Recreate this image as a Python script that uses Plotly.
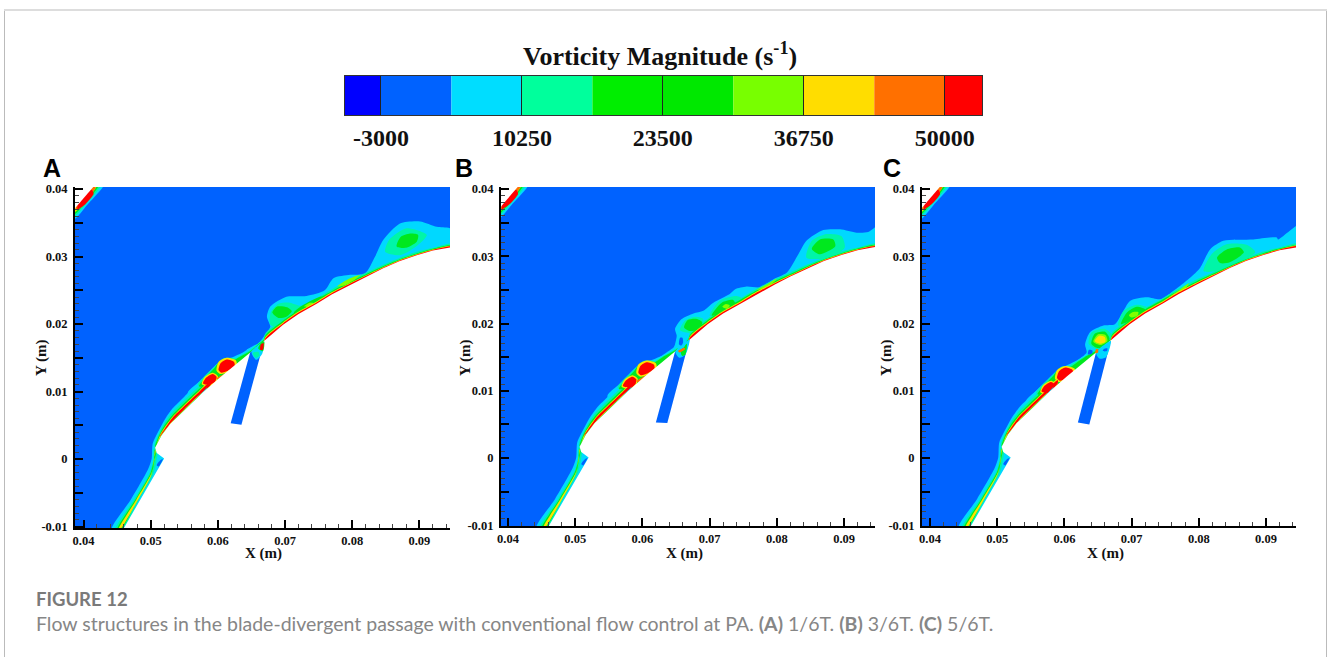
import plotly.graph_objects as go

W, H = 1328, 657

# ---------- colour bar ----------
BAR_EDGES = [-6380, -3000, 3625, 10250, 16875, 23500, 30125, 36750, 43375, 50000, 53500]
BAR_COLORS = ["#0000FF", "#0062FF", "#00DDFF", "#00FF9C", "#00EE00", "#00E800", "#78FF00", "#FFDD00", "#FF7000", "#FF0000"]
BAR_TICKS = [-3000, 10250, 23500, 36750, 50000]

LEVEL = ["blue", "cyan", "mint", "green", "lime", "yellow", "orange", "red"]
COL = {"blue": "#0062FF", "cyan": "#00D8FF", "mint": "#00F5A8", "green": "#00E81E",
       "lime": "#80FF00", "yellow": "#FFE000", "orange": "#FF7000", "red": "#FF0000"}

# ---------- all geometry below is in units of 0.001 m ----------
SURFACE = [(45.9, -10.4), (52.0, 0.1), (50.9, 0.9), (50.65, 1.7), (51.6, 3.5), (52.9, 5.2), (55.4, 7.6), (57.8, 9.9),
           (60.3, 12.1), (62.8, 14.1), (64.8, 15.8), (67, 17.6), (69.7, 19.9), (72, 21.5), (74.7, 23.0),
           (77, 24.4), (79.7, 25.8), (82, 27.0), (84.6, 28.25), (87, 29.3), (89.6, 30.2), (92, 30.9), (94.7, 31.4),
           (95, 31.4), (95, -10.4)]
CORNER = [(38, 36.3), (41.7, 40.6), (38, 40.6)]

TOP_CYAN = [(38.7, 35.6), (40.5, 37.6), (43, 40.6), (41, 40.6), (38.7, 38)]
TOP_MINT = [(38.7, 36.0), (40.4, 37.8), (42.6, 40.6), (41, 40.6), (38.7, 38)]
TOP_GREEN = [(38.7, 36.3), (40.3, 38), (42.3, 40.6), (41, 40.6), (38.7, 38)]
TOP_YEL = [(38.7, 36.6), (40.2, 38.1), (42, 40.6), (41, 40.6), (38.7, 38)]
TOP_ORANGE = [(38.9, 36.9), (40.2, 38), (41.8, 40.3), (41, 40.4), (38.9, 37.8)]
TOP_RED = [(39.1, 37), (40.3, 37.8), (41.5, 39.3), (41.2, 39.9), (40, 38.9), (39.2, 37.9)]

LEAD_CYAN = [(44.2, -10.4), (47, -6.07), (49.6, -1.5), (50.15, 0.1), (50.3, 2.3), (51.5, 4.8), (52.3, 6.2), (53.2, 7.45), (55, 9.25), (57, 11.15),
             (59, 13.0), (62, 14.6), (66, 17), (66, 14), (60, 8), (51, -2), (46, -11)]
LOW_MINT = [(44.7, -10.4), (47.5, -6), (49.9, -1.9), (50.4, 0), (50.5, 1.6), (51, 1), (50.9, 0), (50.4, -2.2), (48.25, -6), (45.75, -10.4)]
LOW_GREEN = [(45, -10.4), (47.7, -6), (50, -2), (50.5, 0), (50.6, 1.4), (50.8, 1), (50.6, 0), (50.2, -2), (48, -6), (45.6, -10.4)]
LOW_YEL = [(45.2, -10.4), (47.85, -6), (50.1, -2.1), (50.55, 0), (50.65, 1.3), (50.72, 1.3), (50.45, -0.3), (50.1, -2.3), (48, -6.2), (45.45, -10.4)]
TIP_BLUE = [(50.9, -0.9), (51.4, -0.2), (51.8, 0.0), (51.2, -1.1)]

UP_MINT = [(50.55, 2.0), (51.5, 4.4), (52.3, 5.75), (53.2, 6.95), (55, 8.75), (57, 10.65), (59, 12.5), (61, 13.9), (63, 15.1), (65, 16.3), (67, 17.9), (66, 14), (55, 5), (51, 1)]
UP_GREEN = [(50.65, 1.8), (51.5, 4.05), (52.3, 5.35), (53.2, 6.5), (55, 8.3), (57, 10.2), (59, 12.1), (61, 13.6), (63, 15), (65, 16.1), (67, 17.7), (66, 14), (55, 5), (51, 1)]
UP_YEL = [(50.9, 2.2), (51.5, 3.8), (53.2, 6.2), (55, 8), (57, 9.9), (59, 11.8), (59, 11), (57, 9.2), (55, 7.3), (53.2, 5.5), (51.5, 3.4)]
UP_RED = [(51.3, 3.3), (53.2, 6.05), (55, 7.85), (57, 9.75), (59, 11.6), (59, 11.1), (57, 9.3), (55, 7.4), (53.2, 5.6), (51.5, 3.5)]
UNDER_CYAN = [(55.8, 7.95), (57, 9.1), (58.4, 10.6), (57.9, 9.8), (56.5, 8.3)]

HUMP_CYAN = [(55.5, 9.8), (57.5, 11.7), (60.2, 14.4), (62.2, 15.1), (63.6, 15.7), (65.8, 16.7), (67.5, 18), (67.5, 17), (64, 14.5), (60, 11), (56, 8.5)]
HUMP_MINT = [(57, 11.0), (59.7, 13.9), (60.8, 14.9), (62, 15), (63.3, 14.9), (64.6, 15.8), (64.6, 15), (61, 12.5), (58, 10.5)]
HUMP_GREEN = [(57.2, 10.8), (59.5, 13.5), (60.5, 14.7), (62, 14.85), (63.1, 14.6), (64, 15), (62, 13), (58.5, 10.8)]
HUMP_YEL1 = [(59.8, 13.1), (60.1, 14.4), (61.3, 15), (62.7, 14.6), (62.8, 13.7), (61.6, 12.9), (60.4, 12.6)]
HUMP_RED1 = [(60.1, 13.2), (60.4, 14.2), (61.3, 14.75), (62.4, 14.4), (62.5, 13.8), (61.5, 13.1), (60.5, 12.8)]
HUMP_YEL2 = [(57.6, 11.1), (58, 12.1), (59.2, 12.8), (60, 12.3), (59.8, 11.4), (58.7, 10.8)]
HUMP_RED2 = [(57.8, 11.2), (58.2, 12.0), (59.2, 12.6), (59.8, 12.2), (59.6, 11.5), (58.7, 11)]
HUMP_STREAK = [(59.8, 11.9), (60.3, 12.3), (61.3, 12.8), (62.4, 13.5), (62.5, 13.2), (61.2, 12.3), (60.2, 11.8)]

TAIL_MINT = [(67, 18.5), (69.7, 20.7), (72, 22.3), (74.7, 23.8), (77, 25.2), (79.7, 26.6), (82, 27.6), (84.6, 28.8), (87, 29.8), (89.6, 30.7), (92, 31.3), (95, 31.9), (95, 30), (67, 16)]
TAIL_GREEN = [(67, 18.2), (69.7, 20.5), (72, 22.1), (74.7, 23.6), (77, 24.9), (79.7, 26.3), (82, 27.35), (84.6, 28.55), (87, 29.55), (89.6, 30.45), (92, 31.15), (95, 31.65), (95, 30), (67, 16)]
TAIL_YEL = [(67, 17.95), (69.7, 20.25), (72, 21.85), (74.7, 23.35), (77, 24.75), (79.7, 26.1), (82, 27.2), (84.6, 28.42), (87, 29.45), (89.6, 30.33), (92, 31.03), (95, 31.55), (95, 30), (67, 16)]
TAIL_RED = [(67, 17.8), (69.7, 20.1), (72, 21.7), (74.7, 23.2), (77, 24.6), (79.7, 26), (82, 27.12), (84.6, 28.35), (87, 29.38), (89.6, 30.27), (92, 30.97), (95, 31.47), (95, 30), (67, 16)]

# panel A
A_ENV = [(64.3, 16.2), (65.8, 16.9), (67, 18.4), (67.8, 19.6), (67.3, 21.1), (67.8, 22.6), (70.2, 24.05), (73.2, 24.15), (75.9, 25.0), (77.2, 26.8),
         (79.7, 27.3), (81.9, 27.5), (83.4, 30), (84.6, 32.45), (87.1, 34.9), (90.1, 35.2), (92.6, 34.4), (95, 34.0), (95, 30), (80, 24), (68, 16)]
A_V12_MINT = [(67.8, 19.9), (67.9, 21.8), (69, 23), (70.5, 23.2), (72.5, 22.7), (75, 23.9), (76, 24.4), (75, 22.5), (70, 19.5)]
A_V1_GREEN = [(68.1, 21.7), (68.8, 22.6), (70.3, 22.5), (71, 21.9), (70.2, 21.1), (69, 20.9)]
A_V2_GREEN = [(71.3, 21.7), (72.8, 22.9), (75.4, 24.1), (75.8, 23.9), (74.5, 22.6), (72.8, 21.6)]
A_V2_LIME = [(72.8, 22.6), (73.5, 23.1), (74.2, 23.1), (73.8, 22.6)]
A_BIG_MINT = [(84.9, 30.7), (85.5, 32.5), (88.1, 34.2), (91.1, 33.2), (89.5, 31.5), (87.1, 30.2)]
A_BIG_GREEN = [(86.6, 31.5), (87.2, 32.9), (88.6, 33.4), (89.8, 33.2), (89.6, 32.2), (88, 31.3)]
A_BAND_LIME = [(77.8, 25.6), (79.5, 26.7), (81.2, 27.3), (80.4, 26.6), (78.8, 25.7)]
A_SLOT_CYAN = [(65, 15.9), (66.8, 17.3), (66.6, 15.6), (65.7, 14.7)]
A_SLOT_MINT = [(65.2, 15.7), (66, 15.9), (66.2, 15.3), (65.6, 15)]
A_SLOT_GREEN = [(66, 16.4), (66.5, 17.3), (66.9, 17.4), (66.7, 16)]
A_SLOT_RED = [(66.3, 16.2), (66.4, 17), (66.8, 17.2), (66.7, 16.2)]
SLOT_A = [(61.9, 5.3), (63.5, 5.1), (66.9, 17.5), (64.8, 15.8)]

# panel B
B_ENV = [(64.5, 16), (64.85, 16.9), (65.1, 18.2), (64.85, 19.2), (65.84, 20.66), (67.6, 21.5), (69.06, 21.9), (70.55, 23.1), (73, 24.4), (73.8, 25.1), (75.5, 25.5),
         (77.5, 25.4), (79.5, 26.6), (81.5, 27.6), (83.2, 30.3), (84.4, 32.3), (86.9, 33.9), (89.4, 34), (91.9, 33.5), (93.6, 33.6), (95, 34.5), (95, 30), (80, 24), (68, 16)]
B_V1_MINT = [(65.6, 19), (66.3, 20.4), (67.8, 21), (69, 20.7), (69, 19.5), (67.5, 18.6)]
B_V1_GREEN = [(66.2, 19.4), (66.7, 20.5), (68, 20.7), (68.9, 20.2), (68.4, 19.2), (67, 18.9)]
B_V2_MINT = [(70, 21.2), (71.5, 23.4), (74, 24.1), (75, 23.6), (73.5, 22.1), (71, 20.9)]
B_V2_GREEN = [(70.3, 21.2), (71.8, 23.1), (73.5, 23.5), (73.8, 22.9), (72, 21.6)]
B_V2_LIME = [(71.9, 22.5), (72.4, 22.9), (73, 22.7), (72.6, 22.2)]
B_BIG_MINT = [(84.4, 29.8), (85.2, 32.3), (87.4, 33.3), (89.6, 33), (90.1, 31.3), (87.9, 29.8)]
B_BIG_GREEN = [(85.2, 31.1), (86.4, 32.5), (88.4, 32.5), (88.7, 31.5), (86.4, 30.3)]
B_BAND_LIME = [(77, 25), (78.5, 25.8), (80, 26.7), (79.3, 25.9), (78, 25.2)]
B_SLOT_CYAN = [(64.9, 15.8), (67, 17.6), (66.4, 15.4), (65.5, 14.9)]
B_SLOT_GREEN = [(65.7, 15.9), (66.6, 17), (66.4, 15.4), (65.9, 15.2)]
B_SLOT_RED = [(65.3, 15.9), (66.2, 16.4), (66.4, 16.2), (65.5, 15.7)]
B_LOOP_CYAN = [(65, 16.4), (65.3, 18.2), (66.2, 18.6), (66.6, 17.6), (66.1, 16.4)]
B_LOOP_BLUE = [(65.45, 16.9), (65.6, 17.9), (65.95, 17.9), (66.05, 17.2), (65.8, 16.75)]
SLOT_B = [(62, 5.3), (63.7, 5.2), (67, 17.6), (64.85, 15.8)]

# panel C
C_ENV = [(62, 14.4), (63.3, 15.7), (63.07, 16.9), (63.8, 18.7), (65.8, 19.7), (67.5, 19.9), (68.5, 21.4), (69.8, 23.4), (72.25, 23.9), (74.2, 23.6), (75.2, 24.1), (78.7, 26.8),
         (80.2, 28.3), (81.7, 31.05), (83.65, 32.3), (88.1, 32.5), (91.6, 32.8), (91.8, 32.5), (95, 34.7), (95, 30), (80, 24), (68, 16)]
C_V1_MINT = [(63.6, 17), (64.06, 18.7), (66.04, 19.2), (67.3, 18), (66.8, 16.45), (64.8, 16.2)]
C_V1_GREEN = [(64, 17), (64.5, 18.5), (66, 18.8), (66.7, 17.8), (66.3, 16.6), (64.8, 16.4)]
C_V1_LIME = [(64.3, 17.3), (65, 18.4), (66.1, 18.3), (66.4, 17.4), (65.4, 16.8)]
C_V1_YEL = [(64.5, 17.4), (65.2, 18.2), (66, 18), (66.1, 17.3), (65.3, 17)]
C_V2_MINT = [(68, 19.7), (68.8, 21.9), (70.75, 22.8), (72.5, 22.3), (71.25, 20.65), (69.3, 19.4)]
C_V2_GREEN = [(68.4, 19.9), (69.3, 21.65), (70.75, 22.5), (72, 22.1), (70.3, 20.7)]
C_V2_LIME = [(69.6, 21.2), (70.2, 21.7), (71, 21.7), (70.9, 21.2), (70, 20.9)]
C_BIG_MINT = [(80.7, 27.8), (81.9, 30.3), (84.1, 31.8), (87.1, 31.7), (88.4, 30.6), (85.1, 28.8), (82.7, 27.8)]
C_BIG_GREEN = [(82.7, 29.8), (84.15, 31), (86.1, 31.3), (86.7, 30.6), (84.6, 29.1), (83.15, 29)]
C_BAND_LIME = [(75.5, 23.9), (77, 24.9), (78.5, 26), (78, 25.2), (76.5, 24.4)]
C_LOOP_BLUE1 = [(63.5, 15.4), (63.65, 16.1), (64.15, 16), (64.15, 15.6)]
C_LOOP_BLUE2 = [(65.7, 15.9), (65.85, 16.2), (66.4, 16.3), (66.3, 15.9)]
C_SLOT_CYAN = [(64.7, 15.7), (66.9, 17.4), (66.2, 15.0), (65.2, 14.8)]
C_SLOT_RED = [(64.6, 15.6), (64.7, 16.2), (65, 16.2), (65, 15.7)]
SLOT_C = [(62, 5.3), (63.7, 5.0), (66.9, 17.4), (64.7, 15.7)]

SHARED = [("cyan", TOP_CYAN), ("mint", TOP_MINT), ("green", TOP_GREEN), ("yellow", TOP_YEL), ("orange", TOP_ORANGE), ("red", TOP_RED),
          ("cyan", LEAD_CYAN), ("mint", LOW_MINT), ("mint", UP_MINT), ("green", LOW_GREEN), ("green", UP_GREEN),
          ("yellow", LOW_YEL), ("yellow", UP_YEL), ("red", UP_RED),
          ("mint", TAIL_MINT), ("green", TAIL_GREEN), ("yellow", TAIL_YEL), ("red", TAIL_RED)]
HUMP = [("cyan", HUMP_CYAN), ("mint", HUMP_MINT), ("green", HUMP_GREEN), ("yellow", HUMP_YEL1), ("yellow", HUMP_YEL2),
        ("red", HUMP_RED1), ("red", HUMP_RED2), ("orange", HUMP_STREAK)]

PANELS = [
    dict(left=75, right=450, bottom=528, xr=(38.73, 94.55), yr=(-10.2, 40.3), hump=(0, 0), slot=SLOT_A,
         flow=[("cyan", A_ENV), ("mint", A_V12_MINT), ("mint", A_BIG_MINT), ("green", A_V1_GREEN), ("green", A_V2_GREEN),
               ("green", A_BIG_GREEN), ("lime", A_V2_LIME), ("lime", A_BAND_LIME)],
         top=[("cyan", A_SLOT_CYAN), ("mint", A_SLOT_MINT), ("green", A_SLOT_GREEN), ("red", A_SLOT_RED)],
         letter="A", lx=52, ylab=41, xlab=263),
    dict(left=501, right=875, bottom=526, xr=(38.96, 94.6), yr=(-10.1, 40.3), hump=(-0.7, -0.5), slot=SLOT_B,
         flow=[("cyan", B_ENV), ("mint", B_V1_MINT), ("mint", B_V2_MINT), ("mint", B_BIG_MINT), ("green", B_V1_GREEN), ("green", B_V2_GREEN),
               ("green", B_BIG_GREEN), ("lime", B_V2_LIME), ("lime", B_BAND_LIME)],
         top=[("cyan", B_SLOT_CYAN), ("green", B_SLOT_GREEN), ("orange", B_SLOT_RED), ("cyan", B_LOOP_CYAN), ("blue", B_LOOP_BLUE)],
         letter="B", lx=464, ylab=465, xlab=684),
    dict(left=922, right=1296, bottom=526, xr=(38.8, 94.46), yr=(-10.1, 40.3), hump=(-1.2, -1.3), slot=SLOT_C,
         flow=[("cyan", C_ENV), ("mint", C_V1_MINT), ("mint", C_V2_MINT), ("mint", C_BIG_MINT), ("green", C_V1_GREEN), ("green", C_V2_GREEN),
               ("green", C_BIG_GREEN), ("lime", C_V1_LIME), ("lime", C_V2_LIME), ("lime", C_BAND_LIME), ("yellow", C_V1_YEL)],
         top=[("cyan", C_SLOT_CYAN), ("blue", C_LOOP_BLUE1), ("blue", C_LOOP_BLUE2), ("orange", C_SLOT_RED)],
         letter="C", lx=892, ylab=886, xlab=1105),
]

X_TICKS = [0.04, 0.05, 0.06, 0.07, 0.08, 0.09]
Y_TICKS = [-0.01, -0.005, 0, 0.005, 0.01, 0.015, 0.02, 0.025, 0.03, 0.035, 0.04]
Y_LABELS = ["-0.01", "", "0", "", "0.01", "", "0.02", "", "0.03", "", "0.04"]

TITLE = "Vorticity Magnitude (s<sup>-1</sup>)"
FIG_LABEL = "FIGURE 12"
CAPTION = ("Flow structures in the blade-divergent passage with conventional flow control at PA. "
           "<b>(A)</b> 1/6T. <b>(B)</b> 3/6T. <b>(C)</b> 5/6T.")

SERIF = "Liberation Serif"
fig = go.Figure()


def px(x):
    return x / W


def py(y):
    return 1 - y / H


def note(text, x, y, font, xanchor="center", angle=0):
    return dict(text=text, x=px(x), y=py(y), xref="paper", yref="paper", showarrow=False,
                xanchor=xanchor, yanchor="middle", textangle=angle, font=font)


def poly(pts, color, ax, smooth=True):
    xs = [p[0] / 1000 for p in pts] + [pts[0][0] / 1000]
    ys = [p[1] / 1000 for p in pts] + [pts[0][1] / 1000]
    fig.add_trace(go.Scatter(x=xs, y=ys, mode="lines", fill="toself", fillcolor=color,
                             line=dict(width=0, color=color, shape="spline" if smooth else "linear", smoothing=0.7),
                             hoverinfo="skip", showlegend=False, xaxis="x" + ax, yaxis="y" + ax))


annotations = []
for i, p in enumerate(PANELS):
    ax = str(i + 1)
    x0, x1 = p["xr"]
    y0, y1 = p["yr"]
    poly([(x0, y0), (x1, y0), (x1, y1), (x0, y1)], COL["blue"], ax, smooth=False)
    dx, dy = p["hump"]
    layers = list(SHARED) + [(c, [(a + dx, b + dy) for a, b in pts]) for c, pts in HUMP] + p["flow"]
    layers.sort(key=lambda t: LEVEL.index(t[0]))
    for c, pts in layers:
        poly(pts, COL[c], ax)
    poly(UNDER_CYAN, COL["cyan"], ax)
    poly(TIP_BLUE, COL["blue"], ax)
    poly(SURFACE, "#FFFFFF", ax, smooth=False)
    poly(CORNER, "#FFFFFF", ax, smooth=False)
    poly(p["slot"], COL["blue"], ax, smooth=False)
    for c, pts in p["top"]:
        poly(pts, COL[c], ax)

    common = dict(showgrid=False, zeroline=False, showline=True, linecolor="#000", linewidth=2, automargin=False,
                  ticks="inside", ticklen=8, tickwidth=2, tickcolor="#000", tickmode="array",
                  tickfont=dict(family=SERIF, size=12.5, color="#111", weight="bold"), fixedrange=True)
    fig.update_layout({
        "xaxis" + ax: dict(common, domain=[px(p["left"]), px(p["right"])], range=[x0 / 1000, x1 / 1000], anchor="y" + ax,
                           tickvals=X_TICKS, ticktext=[str(v) for v in X_TICKS],
                           minor=dict(ticks="inside", ticklen=4, tickwidth=1, tickcolor="#444", dtick=0.002, tick0=0.04)),
        "yaxis" + ax: dict(common, domain=[py(p["bottom"]), py(187)], range=[y0 / 1000, y1 / 1000], anchor="x" + ax,
                           tickvals=Y_TICKS, ticktext=Y_LABELS, ticklabelstandoff=3,
                           minor=dict(ticks="inside", ticklen=4, tickwidth=1, tickcolor="#444", dtick=0.001, tick0=0)),
    })
    annotations += [
        note(p["letter"], p["lx"], 168, dict(family="Liberation Sans", size=25, color="#000", weight="bold")),
        note("Y (m)", p["ylab"], 358, dict(family=SERIF, size=15, color="#111", weight="bold"), angle=-90),
        note("X (m)", p["xlab"], 553, dict(family=SERIF, size=15, color="#111", weight="bold")),
    ]

# colour bar
lefts = BAR_EDGES[:-1]
widths = [b - a for a, b in zip(BAR_EDGES[:-1], BAR_EDGES[1:])]
fig.add_trace(go.Bar(x=widths, y=[0.5] * len(widths), base=lefts, orientation="h", width=1,
                     marker=dict(color=BAR_COLORS, line=dict(width=0)), hoverinfo="skip", showlegend=False,
                     xaxis="x4", yaxis="y4"))
fig.update_layout(
    xaxis4=dict(domain=[px(345), px(982)], range=[BAR_EDGES[0], BAR_EDGES[-1]], anchor="y4", showgrid=False, zeroline=False,
                showline=True, mirror=True, linecolor="#333", linewidth=1, ticks="inside", ticklen=39, tickwidth=1, tickcolor="#222",
                tickmode="array", tickvals=BAR_TICKS, ticktext=[str(v) for v in BAR_TICKS], ticklabelstandoff=1, automargin=False,
                tickfont=dict(family=SERIF, size=24, color="#111", weight="bold"), fixedrange=True),
    yaxis4=dict(domain=[py(115), py(76)], range=[0, 1], anchor="x4", showgrid=False, zeroline=False, showline=True, mirror=True,
                linecolor="#333", linewidth=1, showticklabels=False, ticks="", fixedrange=True, automargin=False),
)

annotations += [
    note(TITLE, 660, 54, dict(family=SERIF, size=26, color="#111", weight="bold")),
    note(FIG_LABEL, 34, 599, dict(family="Lato", size=18.5, color="#7A7A7A", weight="bold"), xanchor="left"),
    note(CAPTION, 34, 623, dict(family="Lato", size=19.5, color="#868686"), xanchor="left"),
]

FRAME = [(4.5, 10, 4.5, 657, "#BBBBBB", 1), (1326.5, 10, 1326.5, 657, "#BBBBBB", 1), (4, 10, 1327, 10, "#DDDDDD", 2)]
shapes = [dict(type="line", xref="paper", yref="paper", x0=px(a), y0=py(b), x1=px(c), y1=py(d), line=dict(color=col, width=w))
          for a, b, c, d, col, w in FRAME]

fig.update_layout(width=W, height=H, margin=dict(l=0, r=0, t=0, b=0), paper_bgcolor="#FFFFFF", plot_bgcolor="#FFFFFF",
                  barmode="overlay", showlegend=False, annotations=annotations, shapes=shapes)
fig.write_html("out.html", config=dict(displayModeBar=False),
               post_script="document.body.style.margin='0';document.documentElement.style.overflow='hidden';")
